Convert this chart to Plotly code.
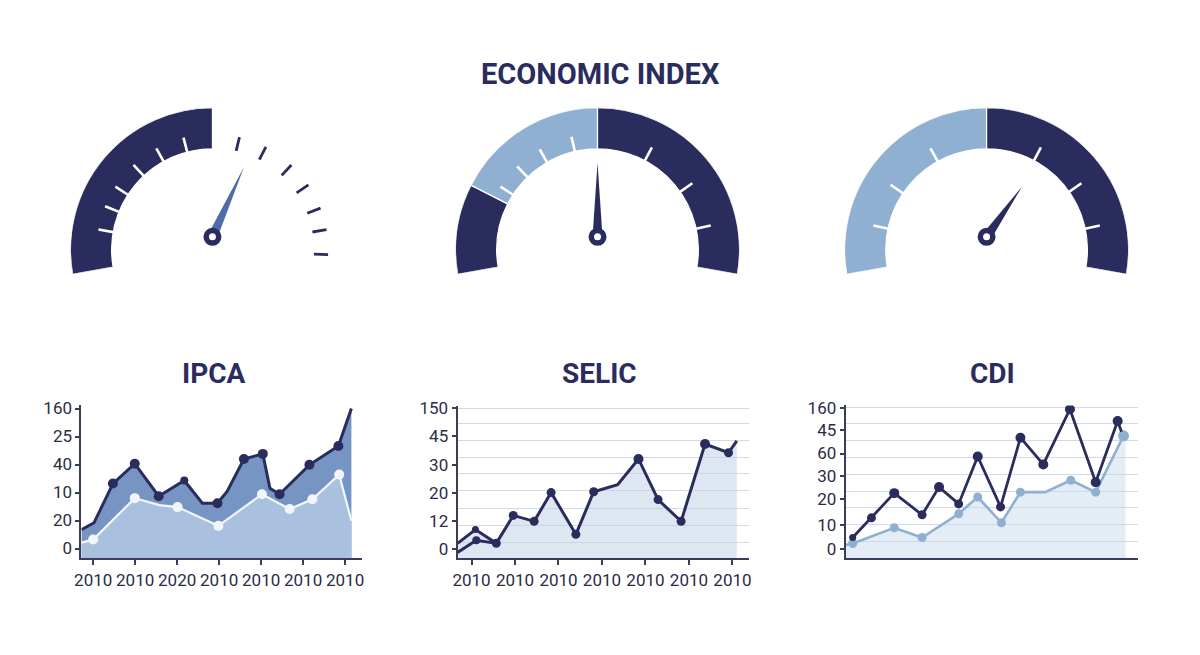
import plotly.graph_objects as go

W, H = 1200, 655

# ---------------- data ----------------
title = "ECONOMIC INDEX"
chart_titles = ["IPCA", "SELIC", "CDI"]

# Gauges: value scale 0..100 across the arc
gauge_bands = [
    [(0, 50, "dark")],
    [(0, 18.5, "dark"), (18.5, 50, "light"), (50, 100, "dark")],
    [(0, 50, "light"), (50, 100, "dark")],
]
gauge_ticks = [
    [10, 16, 21.5, 28.5, 35.5, 42.75, 56.75, 63.75, 71.5, 78, 84.5, 90, 96.25],
    [21.5, 28, 35, 43.5, 64, 77.5, 89],
    [11, 22, 35.5, 64, 77.5, 89],
]
gauge_needle = [62.15, 50, 67.6]
needle_len = [0.54, 0.52, 0.43]

# IPCA
ipca_x_labels = ["2010", "2010", "2020", "2010", "2010", "2010", "2010"]
ipca_y_labels = ["0", "20", "10", "40", "25", "160"]
ipca_dark_x = [-0.28, 0.02, 0.47, 0.99, 1.56, 2.17, 2.60, 2.96, 3.19, 3.59, 4.04, 4.21, 4.44, 5.15, 5.84, 6.15]
ipca_dark_y = [1.02, 1.27, 2.67, 3.38, 2.22, 2.78, 1.97, 1.97, 2.39, 3.55, 3.73, 2.50, 2.29, 3.34, 4.01, 5.35]
ipca_dark_mk = [0, 0, 10, 10, 10, 8, 0, 10, 0, 10, 10, 0, 10, 10, 10, 0]
ipca_light_x = [-0.28, 0.0, 0.99, 1.58, 2.01, 2.98, 4.02, 4.68, 5.22, 5.86, 6.15]
ipca_light_y = [0.56, 0.67, 2.15, 1.90, 1.83, 1.16, 2.29, 1.76, 2.11, 2.99, 1.34]
ipca_light_mk = [0, 10, 10, 0, 10, 10, 10, 10, 10, 10, 0]

# SELIC
selic_x_labels = ["2010"] * 7
selic_y_labels = ["0", "12", "20", "30", "45", "150"]
selic_x = [-0.32, 0.09, 0.57, 0.96, 1.44, 1.83, 2.40, 2.81, 3.36, 3.84, 4.29, 4.82, 5.37, 5.91, 6.10]
selic_y = [0.53, 1.02, 0.53, 1.52, 1.31, 2.33, 0.85, 2.36, 2.61, 3.52, 2.08, 1.31, 4.05, 3.74, 4.16]
selic_mk = [0, 7, 9, 9, 9, 9, 9, 9, 0, 10, 9, 9, 10, 9, 0]
selic2_x = [-0.32, 0.11, 0.57]
selic2_y = [0.21, 0.64, 0.53]
selic2_mk = [0, 8, 0]
selic_grid = [0.57, 1.17, 1.76, 2.40, 3.0, 3.56, 4.16, 4.76, 5.32]

# CDI
cdi_y_labels = ["0", "10", "20", "30", "60", "45", "160"]
cdi_y_ticks = [0.53, 2.0, 3.53, 4.88, 6.24, 7.65, 8.94]
cdi_grid = [1, 2, 3, 4, 5, 6, 7, 8, 9]
cdi_dark_x = [2.4, 8.8, 16.6, 26.1, 31.9, 38.6, 45.1, 52.9, 59.7, 67.5, 76.6, 85.4, 92.9, 94.2]
cdi_dark_y = [1.24, 2.41, 3.88, 2.59, 4.24, 3.24, 6.06, 3.06, 7.18, 5.59, 8.88, 4.53, 8.18, 7.53]
cdi_dark_mk = [7, 9, 10, 9, 10, 9, 10, 9, 10, 10, 10, 10, 10, 0]
cdi_light_x = [0.0, 2.4, 16.6, 26.1, 38.6, 45.1, 53.2, 59.7, 68.1, 76.9, 85.4, 94.9, 95.6]
cdi_light_y = [0.80, 0.88, 1.82, 1.24, 2.65, 3.65, 2.12, 3.94, 3.94, 4.65, 3.94, 7.29, 7.1]
cdi_light_mk = [0, 9, 9, 9, 9, 9, 9, 9, 0, 9, 9, 11, 0]

# ---------------- style ----------------
NAVY = "#2b2c5e"
LIGHT = "#8fb0d1"
TXT = "#2a2c48"
AXIS = "#3a3d58"
TICKFONT = dict(family="Roboto, sans-serif", size=17, color=TXT)

fig = go.Figure()

# ---------------- gauges ----------------
gauge_cx = [207, 595, 987]
arc_cy = 245
pivot_cy = 232
R = 144
SECTOR = [-10, 190]


def ang(v):
    return 190 - 2.0 * v


def dom(cx, cy):
    return dict(x=[(cx - R) / W, (cx + R) / W],
                y=[1 - (cy + R * 0.17365) / H, 1 - (cy - R) / H])


polar_layout = {}
for k in range(3):
    arc_id = "polar" if k == 0 else f"polar{2 * k + 1}"
    ndl_id = f"polar{2 * k + 2}"
    for pid, cy in ((arc_id, arc_cy), (ndl_id, pivot_cy)):
        polar_layout[pid] = dict(
            domain=dom(gauge_cx[k], cy), sector=SECTOR, hole=0,
            bgcolor="rgba(0,0,0,0)",
            radialaxis=dict(visible=False, range=[0, 1]),
            angularaxis=dict(visible=False, rotation=0, direction="counterclockwise"),
        )
    # bands
    for (a, b, c) in gauge_bands[k]:
        fig.add_trace(go.Barpolar(
            r=[0.29], base=[0.71], theta=[(ang(a) + ang(b)) / 2], width=[abs(ang(a) - ang(b))],
            marker=dict(color=NAVY if c == "dark" else LIGHT, line=dict(color="white", width=1.2)),
            subplot=arc_id, showlegend=False, hoverinfo="skip"))
    # ticks
    white_r, white_t, dark_r, dark_t = [], [], [], []
    for v in gauge_ticks[k]:
        on_band = any(a <= v <= b for (a, b, c) in gauge_bands[k])
        if on_band:
            white_r += [0.70, 0.815, None]
            white_t += [ang(v), ang(v), None]
        else:
            dark_r += [0.715, 0.815, None]
            dark_t += [ang(v), ang(v), None]
    if white_r:
        fig.add_trace(go.Scatterpolar(r=white_r, theta=white_t, mode="lines",
                                      line=dict(color="white", width=2.6), subplot=arc_id,
                                      showlegend=False, hoverinfo="skip"))
    if dark_r:
        fig.add_trace(go.Scatterpolar(r=dark_r, theta=dark_t, mode="lines",
                                      line=dict(color=NAVY, width=2.8), subplot=arc_id,
                                      showlegend=False, hoverinfo="skip"))
    # needle
    a = ang(gauge_needle[k])
    ncol = "#4e6ca6" if k == 0 else NAVY
    fig.add_trace(go.Scatterpolar(
        r=[0.035, needle_len[k], 0.035, 0.035], theta=[a + 90, a, a - 90, a + 90],
        mode="lines", fill="toself", fillcolor=ncol, line=dict(width=0, color=ncol),
        cliponaxis=False, subplot=ndl_id, showlegend=False, hoverinfo="skip"))
    fig.add_trace(go.Scatterpolar(
        r=[0], theta=[0], mode="markers",
        marker=dict(size=12.5, color="white", line=dict(color=NAVY, width=5.5)),
        cliponaxis=False, subplot=ndl_id, showlegend=False, hoverinfo="skip"))

# ---------------- IPCA ----------------
fig.add_trace(go.Scatter(x=ipca_dark_x, y=ipca_dark_y, mode="lines", fill="tozeroy",
                         fillcolor="#7695c2", line=dict(color=NAVY, width=3),
                         xaxis="x", yaxis="y", showlegend=False, hoverinfo="skip"))
fig.add_trace(go.Scatter(x=ipca_light_x, y=ipca_light_y, mode="lines", fill="tozeroy",
                         fillcolor="#a9c1de", line=dict(color="#f2f6fb", width=2.2),
                         xaxis="x", yaxis="y", showlegend=False, hoverinfo="skip"))
fig.add_trace(go.Scatter(x=ipca_dark_x, y=ipca_dark_y, mode="markers",
                         marker=dict(size=ipca_dark_mk, color=NAVY, opacity=1, line=dict(width=0)),
                         xaxis="x", yaxis="y", showlegend=False, hoverinfo="skip"))
fig.add_trace(go.Scatter(x=ipca_light_x, y=ipca_light_y, mode="markers",
                         marker=dict(size=ipca_light_mk, color="#f2f6fb", opacity=1, line=dict(width=0)),
                         xaxis="x", yaxis="y", showlegend=False, hoverinfo="skip"))

# ---------------- SELIC ----------------
fig.add_trace(go.Scatter(x=selic_x, y=selic_y, mode="lines+markers", fill="tozeroy",
                         fillcolor="rgba(190,208,228,0.5)", line=dict(color=NAVY, width=3),
                         marker=dict(size=selic_mk, color=NAVY, opacity=1, line=dict(width=0)),
                         xaxis="x2", yaxis="y2", showlegend=False, hoverinfo="skip"))
fig.add_trace(go.Scatter(x=selic2_x, y=selic2_y, mode="lines+markers",
                         line=dict(color=NAVY, width=3),
                         marker=dict(size=selic2_mk, color=NAVY, opacity=1, line=dict(width=0)),
                         xaxis="x2", yaxis="y2", showlegend=False, hoverinfo="skip"))

# ---------------- CDI ----------------
fig.add_trace(go.Scatter(x=cdi_light_x, y=cdi_light_y, mode="lines+markers", fill="tozeroy",
                         fillcolor="rgba(196,214,233,0.45)", line=dict(color=LIGHT, width=2.6),
                         marker=dict(size=cdi_light_mk, color=LIGHT, opacity=1, line=dict(width=0)),
                         xaxis="x3", yaxis="y3", showlegend=False, hoverinfo="skip"))
fig.add_trace(go.Scatter(x=cdi_dark_x, y=cdi_dark_y, mode="lines+markers",
                         line=dict(color=NAVY, width=2.8),
                         marker=dict(size=cdi_dark_mk, color=NAVY, opacity=1, line=dict(width=0)),
                         xaxis="x3", yaxis="y3", showlegend=False, hoverinfo="skip"))

# ---------------- axes ----------------
base_ax = dict(showline=True, linecolor=AXIS, linewidth=2, zeroline=False, tickfont=TICKFONT,
               ticks="outside", tickcolor=AXIS, tickwidth=1.5, ticklen=5, fixedrange=True)
ybot = 1 - 558 / H

layout_axes = dict(
    xaxis=dict(base_ax, domain=[75 / W, 358 / W], range=[-0.28, 6.41], tickvals=list(range(7)),
               ticktext=ipca_x_labels, showgrid=False, anchor="y"),
    yaxis=dict(base_ax, domain=[ybot, 1 - 403 / H], range=[0, 5.46],
               tickvals=[0.35 + i for i in range(6)], ticktext=ipca_y_labels, showgrid=False,
               anchor="x", ticklen=4),
    xaxis2=dict(base_ax, domain=[454 / W, 748 / W], range=[-0.32, 6.39], tickvals=list(range(7)),
                ticktext=selic_x_labels, showgrid=False, anchor="y2"),
    yaxis2=dict(base_ax, domain=[ybot, 1 - 404 / H], range=[0, 5.38],
                tickvals=[0.32 + i for i in range(6)], ticktext=selic_y_labels, showgrid=False,
                anchor="x2", ticklen=4,
                minor=dict(tickvals=selic_grid, showgrid=True, gridcolor="#cfdce8", gridwidth=1.2, ticks="")),
    xaxis3=dict(base_ax, domain=[845 / W, 1140 / W], range=[0, 100], showticklabels=False,
                ticks="", showgrid=False, anchor="y3"),
    yaxis3=dict(base_ax, domain=[ybot, 1 - 403 / H], range=[0, 9.1], tickvals=cdi_y_ticks,
                ticktext=cdi_y_labels, showgrid=False, anchor="x3", ticklen=4,
                minor=dict(tickvals=cdi_grid, showgrid=True, gridcolor="#cfdce8", gridwidth=1.2, ticks="")),
)

annotations = [dict(text=f"<b>{title}</b>", x=598 / W, y=1 - 67 / H, xref="paper", yref="paper",
                    xanchor="center", yanchor="middle",
                    showarrow=False, font=dict(family="Roboto", size=29, color=NAVY))]
for t, cx in zip(chart_titles, [209, 597, 993]):
    annotations.append(dict(text=f"<b>{t}</b>", x=cx / W, y=1 - 371 / H, xref="paper", yref="paper",
                            xanchor="center", yanchor="middle",
                            showarrow=False, font=dict(family="Roboto", size=28, color=NAVY)))

fig.update_layout(width=W, height=H, margin=dict(l=0, r=0, t=0, b=0),
                  paper_bgcolor="white", plot_bgcolor="rgba(0,0,0,0)",
                  showlegend=False, annotations=annotations, **polar_layout, **layout_axes)

fig.write_html("out.html", config=dict(displayModeBar=False))
